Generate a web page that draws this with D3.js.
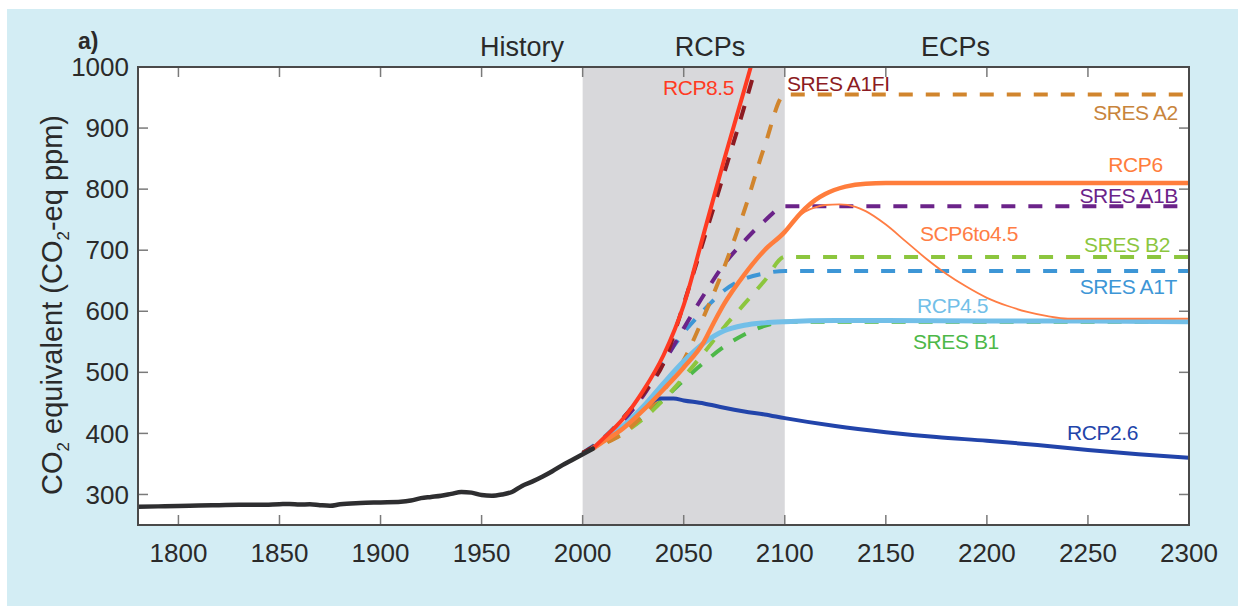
<!DOCTYPE html>
<html>
<head>
<meta charset="utf-8">
<script src="https://cdn.jsdelivr.net/npm/d3@7"></script>
<style>
  html, body { margin: 0; padding: 0; background: #ffffff; }
  svg { display: block; font-family: "Liberation Sans", Arial, Helvetica, sans-serif; }
</style>
</head>
<body>
<svg id="chart" width="1238" height="606"></svg>
<script>
// ---- data (CO2-equivalent concentration, ppm) ----
const xTicks = [1800, 1850, 1900, 1950, 2000, 2050, 2100, 2150, 2200, 2250, 2300];
const yTicks = [300, 400, 500, 600, 700, 800, 900, 1000];
const periodLabels = ["History", "RCPs", "ECPs"];

const historyYears  = [1780,1790,1800,1810,1820,1830,1840,1850,1855,1860,1865,1870,1875,1880,1890,1900,1910,1915,1920,1925,1930,1935,1940,1945,1950,1955,1960,1965,1970,1975,1980,1985,1990,1995,2000,2005];
const historyValues = [280,280.5,281,282,282.5,283,283,284,284.5,283.5,284,282.5,281.5,284,286,287,288,290,294,296,298,301,304,303,299,298,300,304,314,321,329,338,348,357,366,375];

const rcp85Years  = [2005,2010,2020,2030,2040,2050,2060,2070,2080,2090];
const rcp85Values = [375,391,424,470,528,610,728,848,963,1080];

const rcp6Years  = [2005,2010,2020,2030,2040,2050,2060,2065,2070,2080,2090,2100,2105,2110,2115,2120,2130,2140,2150,2200,2250,2300];
const rcp6Values = [375,386,408,438,472,508,550,582,612,660,700,730,750,768,782,792,804,809,810,810,810,810];

const scp6to45Years  = [2100,2105,2110,2115,2120,2127,2135,2140,2150,2160,2170,2180,2190,2200,2210,2220,2230,2240,2270,2300];
const scp6to45Values = [730,750,763,770,774,775,771,764,742,714,686,661,640,622,609,599,592,588,588,588];

const rcp45Years  = [2005,2010,2020,2030,2040,2050,2060,2070,2080,2090,2100,2125,2150,2200,2250,2300];
const rcp45Values = [375,388,412,444,482,518,548,568,577,581,583,585,585,584,584,583];

const rcp26Years  = [2005,2010,2020,2030,2038,2045,2050,2060,2070,2080,2090,2100,2125,2150,2175,2200,2225,2250,2275,2300];
const rcp26Values = [375,388,412,440,457,457,454,449,442,436,431,425,412,402,394,388,381,373,366,360];

const sresYears    = [2000,2010,2020,2030,2040,2050,2060,2070,2080,2090,2100,2300];
const sresA1FI     = [368,390,425,465,515,612,718,826,935,1050,1160,1160];
const sresA2       = [368,382,400,430,470,520,592,672,765,870,955,955];
const sresA1B      = [368,388,420,462,515,572,627,677,715,748,772,772];
const sresB2       = [368,383,400,424,455,492,532,574,612,650,689,689];
const sresA1T      = [368,392,425,466,518,565,602,634,653,662,666,666];
const sresB1       = [368,384,404,427,456,487,516,542,562,576,583,583];

// ---- layout ----
const W = 1238, H = 606;
const plotLeft = 138, plotRight = 1189, plotTop = 67, plotBottom = 525;

const svg = d3.select("#chart");

svg.append("rect").attr("x", 7).attr("y", 9).attr("width", W - 7).attr("height", H - 9).attr("fill", "#d3edf4");
svg.append("rect").attr("x", plotLeft).attr("y", plotTop).attr("width", plotRight - plotLeft).attr("height", plotBottom - plotTop).attr("fill", "#ffffff");

const x = d3.scaleLinear().domain([1780, 2300]).range([plotLeft, plotRight]);
const y = d3.scaleLinear().domain([250, 1000]).range([plotBottom, plotTop]);

// shaded RCP period
svg.append("rect")
  .attr("x", x(2000)).attr("y", plotTop)
  .attr("width", x(2100) - x(2000)).attr("height", plotBottom - plotTop)
  .attr("fill", "#d8d8db");

svg.append("clipPath").attr("id", "plotclip")
  .append("rect").attr("x", plotLeft).attr("y", plotTop).attr("width", plotRight - plotLeft).attr("height", plotBottom - plotTop);

const plot = svg.append("g").attr("clip-path", "url(#plotclip)");

const line = d3.line().x(d => x(d[0])).y(d => y(d[1])).curve(d3.curveMonotoneX);
const pairs = (xs, vs) => xs.map((v, i) => [v, vs[i]]);

// SRES scenarios (dashed)
const sres = [
  { values: sresB1,   color: "#4db848" },
  { values: sresA1T,  color: "#3d96d6" },
  { values: sresB2,   color: "#8cc63e" },
  { values: sresA1B,  color: "#6b2389" },
  { values: sresA2,   color: "#d1852d" },
  { values: sresA1FI, color: "#8c1b22" }
];
sres.forEach(s => {
  plot.append("path")
    .attr("d", line(pairs(sresYears, s.values)))
    .attr("fill", "none").attr("stroke", s.color)
    .attr("stroke-width", 4).attr("stroke-dasharray", "14,13");
});

// RCP / ECP pathways
const rcps = [
  { xs: rcp26Years, vs: rcp26Values, color: "#2244aa", w: 4 },
  { xs: rcp45Years, vs: rcp45Values, color: "#72bfe8", w: 5 },
  { xs: scp6to45Years, vs: scp6to45Values, color: "#ff7d44", w: 1.8 },
  { xs: rcp6Years, vs: rcp6Values, color: "#ff7d3c", w: 4.5 },
  { xs: rcp85Years, vs: rcp85Values, color: "#ff3a22", w: 4 }
];
rcps.forEach(r => {
  plot.append("path")
    .attr("d", line(pairs(r.xs, r.vs)))
    .attr("fill", "none").attr("stroke", r.color)
    .attr("stroke-width", r.w).attr("stroke-linecap", "round");
});

// historical record
plot.append("path")
  .attr("d", line(pairs(historyYears, historyValues)))
  .attr("fill", "none").attr("stroke", "#2e2e30")
  .attr("stroke-width", 4.5).attr("stroke-linecap", "round");

// ---- axes ----
const axisColor = "#4a4a4a";
const tickColor = "#7a7a7a";
const tickLen = 10;

const gAxis = svg.append("g");
xTicks.forEach(t => {
  gAxis.append("line").attr("x1", x(t)).attr("x2", x(t)).attr("y1", plotBottom).attr("y2", plotBottom - tickLen)
    .attr("stroke", tickColor).attr("stroke-width", 1.5);
  gAxis.append("line").attr("x1", x(t)).attr("x2", x(t)).attr("y1", plotTop).attr("y2", plotTop + tickLen)
    .attr("stroke", tickColor).attr("stroke-width", 1.5);
  gAxis.append("text").attr("x", x(t)).attr("y", 562)
    .attr("text-anchor", "middle").attr("font-size", 26).attr("fill", "#2a2a2a").text(t);
});
yTicks.forEach(t => {
  if (t < 1000) {
    gAxis.append("line").attr("x1", plotLeft).attr("x2", plotLeft + tickLen).attr("y1", y(t)).attr("y2", y(t))
      .attr("stroke", tickColor).attr("stroke-width", 1.5);
    gAxis.append("line").attr("x1", plotRight).attr("x2", plotRight - tickLen).attr("y1", y(t)).attr("y2", y(t))
      .attr("stroke", tickColor).attr("stroke-width", 1.5);
  }
  gAxis.append("text").attr("x", 129).attr("y", y(t)).attr("dy", "0.35em")
    .attr("text-anchor", "end").attr("font-size", 26).attr("fill", "#2a2a2a").text(t);
});
gAxis.append("rect").attr("x", plotLeft).attr("y", plotTop).attr("width", plotRight - plotLeft).attr("height", plotBottom - plotTop)
  .attr("fill", "none").attr("stroke", axisColor).attr("stroke-width", 2);

// y-axis title with subscripts
const yt = svg.append("text")
  .attr("transform", "translate(62,305) rotate(-90)")
  .attr("text-anchor", "middle").attr("font-size", 29).attr("fill", "#2a2a2a");
yt.append("tspan").text("CO");
yt.append("tspan").attr("font-size", 17).attr("dy", 7).text("2");
yt.append("tspan").attr("dy", -7).text(" equivalent (CO");
yt.append("tspan").attr("font-size", 17).attr("dy", 7).text("2");
yt.append("tspan").attr("dy", -7).text("-eq ppm)");

// panel letter and period headings
svg.append("text").attr("x", 78).attr("y", 49).attr("font-size", 23).attr("font-weight", "bold")
  .attr("fill", "#2a2a2a").text("a)");
const headingX = [1970, 2063, 2184.5];
periodLabels.forEach((p, i) => {
  svg.append("text").attr("x", x(headingX[i])).attr("y", 56)
    .attr("text-anchor", "middle").attr("font-size", 27).attr("fill", "#2a2a2a").text(p);
});

// scenario labels
const labels = [
  { text: "RCP8.5",    yr: 2074.9, v: 967,   anchor: "end",   color: "#ff3a22" },
  { text: "SRES A1FI", yr: 2101.1, v: 973.5, anchor: "start", color: "#8c1b22" },
  { text: "SRES A2",   yr: 2294.5, v: 926,   anchor: "end",   color: "#c8843c" },
  { text: "RCP6",      yr: 2287,   v: 839.5, anchor: "end",   color: "#ff7d3c" },
  { text: "SRES A1B",  yr: 2294.5, v: 789,   anchor: "end",   color: "#6b2389" },
  { text: "SCP6to4.5", yr: 2166.9, v: 726.5, anchor: "start", color: "#ff7d44" },
  { text: "SRES B2",   yr: 2290.6, v: 708.5, anchor: "end",   color: "#8cc63e" },
  { text: "SRES A1T",  yr: 2294,   v: 640,   anchor: "end",   color: "#3d96d6" },
  { text: "RCP4.5",    yr: 2165.4, v: 608.6, anchor: "start", color: "#72bfe8" },
  { text: "SRES B1",   yr: 2163.4, v: 549.7, anchor: "start", color: "#4db848" },
  { text: "RCP2.6",    yr: 2274.8, v: 400.6, anchor: "end",   color: "#2244aa" }
];
labels.forEach(l => {
  svg.append("text").attr("x", x(l.yr)).attr("y", y(l.v)).attr("dy", "0.35em")
    .attr("text-anchor", l.anchor).attr("font-size", 21).attr("letter-spacing", "-0.4")
    .attr("fill", l.color).text(l.text);
});
</script>
</body>
</html>
